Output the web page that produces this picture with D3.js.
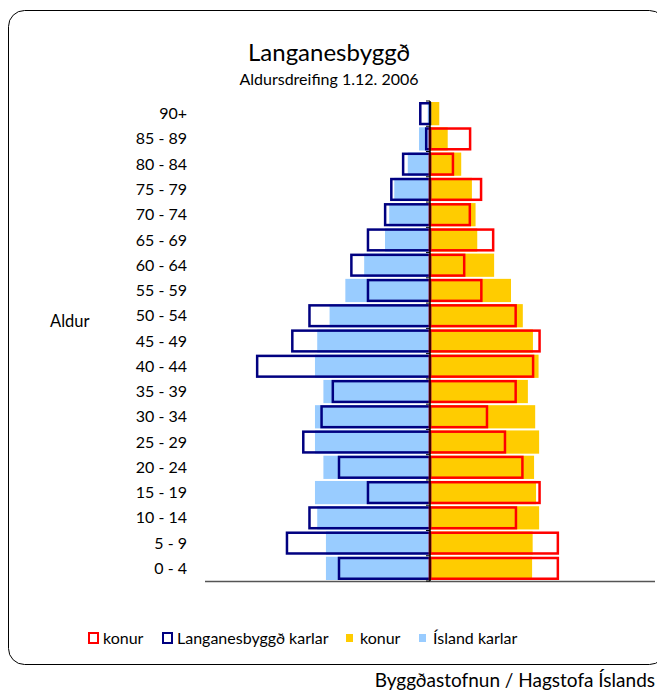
<!DOCTYPE html>
<html>
<head>
<meta charset="utf-8">
<title>Langanesbyggð</title>
<style>
  html, body { margin:0; padding:0; background:white; }
  svg text { font-family: Lato, "Open Sans", sans-serif; fill:#000; }
</style>
<script src="https://d3js.org/d3.v7.min.js"></script>
</head>
<body>
<svg id="chart" width="657" height="690"></svg>
<script>
// age groups, bottom to top
var ages = ["0 - 4","5 - 9","10 - 14","15 - 19","20 - 24","25 - 29","30 - 34","35 - 39","40 - 44",
            "45 - 49","50 - 54","55 - 59","60 - 64","65 - 69","70 - 74","75 - 79","80 - 84","85 - 89","90+"];
// % of population
var islandKarlar = [3.70,3.70,4.01,4.09,3.79,4.09,4.09,3.79,4.09,4.01,3.57,3.01,2.34,1.60,1.45,1.27,0.79,0.39,0.08];
var islandKonur  = [3.63,3.65,3.88,3.77,3.70,3.88,3.74,3.48,3.86,3.66,3.30,2.88,2.28,1.68,1.62,1.49,1.11,0.63,0.33];
var langKarlar   = [3.28,5.13,4.33,2.25,3.28,4.55,3.90,3.50,6.19,4.94,4.33,2.25,2.84,2.25,1.64,1.42,1.00,0.18,0.39];
var langKonur    = [4.59,4.59,3.10,3.94,3.33,2.71,2.07,3.09,3.71,3.94,3.09,1.87,1.26,2.29,1.46,1.86,0.86,1.47,0];

var legendItems = [
  {label:"konur", type:"outline", color:"#ff0000"},
  {label:"Langanesbyggð karlar", type:"outline", color:"#000080"},
  {label:"konur", type:"fill", color:"#ffcc00"},
  {label:"Ísland karlar", type:"fill", color:"#99ccff"}
];

var svg = d3.select("#chart");

// frame (runs off the right edge like the original)
svg.append("rect")
  .attr("x", 8.5).attr("y", 10.5)
  .attr("width", 657).attr("height", 654)
  .attr("rx", 16)
  .attr("fill", "white")
  .attr("stroke", "#000").attr("stroke-width", 1);

svg.append("text").text("Langanesbyggð")
  .attr("x", 329).attr("y", 61)
  .attr("text-anchor", "middle")
  .style("font-size", "24px");
svg.append("text").text("Aldursdreifing 1.12. 2006")
  .attr("x", 329).attr("y", 85)
  .attr("text-anchor", "middle")
  .style("font-size", "16px");

var x = d3.scaleLinear().domain([-8, 8]).range([205, 655]);
var y = d3.scaleBand().domain(ages.slice().reverse()).range([101, 581]).paddingInner(0.08).paddingOuter(0.04);
var step = y.step();

var rows = ages.map(function(a, i) {
  return {age:a, ik:islandKarlar[i], iw:islandKonur[i], lk:langKarlar[i], lw:langKonur[i]};
});

// Ísland filled bars
svg.append("g").selectAll("rect").data(rows).enter().append("rect")
  .attr("x", function(d) { return x(-d.ik); })
  .attr("y", function(d) { return y(d.age); })
  .attr("width", function(d) { return x(0) - x(-d.ik); })
  .attr("height", y.bandwidth())
  .attr("fill", "#99ccff");
svg.append("g").selectAll("rect").data(rows).enter().append("rect")
  .attr("x", x(0))
  .attr("y", function(d) { return y(d.age); })
  .attr("width", function(d) { return x(d.iw) - x(0); })
  .attr("height", y.bandwidth())
  .attr("fill", "#ffcc00");

// Langanesbyggð outlined bars
var sw = 2.5;
svg.append("g").selectAll("rect").data(rows.filter(function(d) { return d.lk > 0; })).enter().append("rect")
  .attr("x", function(d) { return x(-d.lk) + sw / 2; })
  .attr("y", function(d) { return y(d.age) + sw / 2; })
  .attr("width", function(d) { return Math.max(0, x(0) - x(-d.lk) - sw / 2); })
  .attr("height", y.bandwidth() - sw)
  .attr("fill", "none")
  .attr("stroke", "#000080").attr("stroke-width", sw);
svg.append("g").selectAll("rect").data(rows.filter(function(d) { return d.lw > 0; })).enter().append("rect")
  .attr("x", x(0))
  .attr("y", function(d) { return y(d.age) + sw / 2; })
  .attr("width", function(d) { return Math.max(0, x(d.lw) - x(0) - sw / 2); })
  .attr("height", y.bandwidth() - sw)
  .attr("fill", "none")
  .attr("stroke", "#ff0000").attr("stroke-width", sw);

// horizontal value axis line
svg.append("line")
  .attr("x1", x.range()[0]).attr("x2", x.range()[1])
  .attr("y1", y.range()[1] + 0.5).attr("y2", y.range()[1] + 0.5)
  .attr("stroke", "#555").attr("stroke-width", 1.5);

// category axis at zero with ticks on band boundaries
svg.append("line")
  .attr("x1", x(0)).attr("x2", x(0))
  .attr("y1", y.range()[0]).attr("y2", y.range()[1])
  .attr("stroke", "#000").attr("stroke-width", 1.5);
svg.append("g").selectAll("line").data(d3.range(ages.length + 1)).enter().append("line")
  .attr("x1", x(0) - 4).attr("x2", x(0))
  .attr("y1", function(i) { return y.range()[0] + i * step; })
  .attr("y2", function(i) { return y.range()[0] + i * step; })
  .attr("stroke", "#000").attr("stroke-width", 1);

// age labels (low position)
svg.append("g").selectAll("text").data(ages).enter().append("text")
  .text(function(d) { return d; })
  .attr("x", 187)
  .attr("y", function(d) { return y(d) + y.bandwidth() / 2; })
  .attr("dy", "0.35em")
  .attr("text-anchor", "end")
  .style("font-size", "16px");

svg.append("text").text("Aldur")
  .attr("x", 50).attr("y", 321).attr("dy", "0.35em")
  .style("font-size", "16.5px");

// legend
var legendX = [88, 162, 346, 419];
var lg = svg.append("g").selectAll("g").data(legendItems).enter().append("g")
  .attr("transform", function(d, i) { return "translate(" + legendX[i] + ",638)"; });
lg.append("rect")
  .attr("x", function(d) { return d.type == "outline" ? 1 : 0; })
  .attr("y", function(d) { return d.type == "outline" ? -5 : -4; })
  .attr("width", function(d) { return d.type == "outline" ? 9 : 7; })
  .attr("height", function(d) { return d.type == "outline" ? 10 : 8; })
  .attr("fill", function(d) { return d.type == "outline" ? "white" : d.color; })
  .attr("stroke", function(d) { return d.type == "outline" ? d.color : "none"; })
  .attr("stroke-width", 2);
lg.append("text")
  .text(function(d) { return d.label; })
  .attr("x", function(d) { return d.type == "outline" ? 15 : 14; })
  .attr("dy", "0.35em")
  .style("font-size", "16px");

svg.append("text").text("Byggðastofnun / Hagstofa Íslands")
  .attr("x", 655).attr("y", 687)
  .attr("text-anchor", "end")
  .style("font-size", "19px");
</script>
</body>
</html>
